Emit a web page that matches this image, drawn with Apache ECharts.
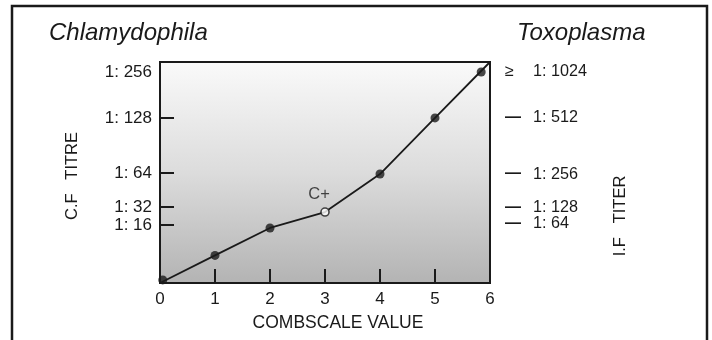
<!DOCTYPE html>
<html>
<head>
<meta charset="utf-8">
<script src="https://cdn.jsdelivr.net/npm/echarts@6/dist/echarts.min.js"></script>
<style>html,body{margin:0;padding:0;background:#fff}#c{width:712px;height:340px}</style>
</head>
<body>
<div id="c"></div>
<script>
// ---- data ----
const combscaleTicks = [0, 1, 2, 3, 4, 5, 6];
const cfTitreLabels = ['1: 256', '1: 128', '1: 64', '1: 32', '1: 16'];
const cfTitreLevels = [95.5, 74.7, 49.8, 34.4, 26.2];
const cfTickLevels = [74.7, 49.8, 34.4, 26.2];
const ifTiterLabels = ['1: 1024', '1: 512', '1: 256', '1: 128', '1: 64'];
const ifTiterLevels = [95.5, 74.7, 49.3, 34.1, 26.7];
const ifTiterSymbols = ['≥', '—', '—', '—', '—'];
const lineX = [0, 1, 2, 3, 4, 5, 6];
const lineLevels = [0, 12.5, 24.9, 32.1, 49.3, 74.7, 100];
const pointX = [0.05, 1, 2, 3, 4, 5, 5.84];
const pointLevels = [1.4, 12.5, 24.9, 32.1, 49.3, 74.7, 95.5];
const openPointIndex = 3;
const openPointLabel = 'C+';
const leftTitle = 'Chlamydophila';
const rightTitle = 'Toxoplasma';
const leftAxisName = 'C.F   TITRE';
const rightAxisName = 'I.F   TITER';
const xAxisName = 'COMBSCALE VALUE';

const FONT = '"Liberation Sans", Arial, Helvetica, sans-serif';
const INK = '#1a1a1a';
function lookup(levels, labels, v) {
  const i = levels.findIndex(l => Math.abs(l - v) < 1e-6);
  return i >= 0 ? labels[i] : '';
}

const chart = echarts.init(document.getElementById('c'), null, {renderer: 'canvas'});
const option = {
  animation: false,
  textStyle: {fontFamily: FONT, color: INK},
  grid: {
    left: 160, top: 62, right: 222, bottom: 57,
    show: true, borderColor: INK, borderWidth: 2,
    backgroundColor: {
      type: 'linear', x: 0, y: 0, x2: 0, y2: 1,
      colorStops: [{offset: 0, color: '#fafafa'}, {offset: 0.5, color: '#dcdcdc'}, {offset: 1, color: '#b3b3b3'}]
    }
  },
  xAxis: {
    type: 'value', min: 0, max: 6, interval: 1,
    name: xAxisName, nameLocation: 'middle', nameGap: 31,
    nameTextStyle: {fontSize: 17.5, color: INK, fontFamily: FONT, padding: [0, 0, 0, 26]},
    axisLine: {show: true, lineStyle: {color: INK, width: 2}},
    axisTick: {show: true, inside: true, length: 14, lineStyle: {color: INK, width: 2}},
    axisLabel: {fontSize: 17, color: INK, margin: 8, fontFamily: FONT, hideOverlap: false,
      formatter: v => combscaleTicks.includes(v) ? String(v) : ''},
    splitLine: {show: false}
  },
  yAxis: [{
    type: 'value', min: 0, max: 100, position: 'left',
    axisLine: {show: true, lineStyle: {color: INK, width: 2}},
    axisTick: {show: true, inside: true, length: 14, customValues: cfTickLevels, lineStyle: {color: INK, width: 2}},
    axisLabel: {fontSize: 17, color: INK, margin: 8, fontFamily: FONT, customValues: cfTitreLevels,
      hideOverlap: false,
      formatter: v => lookup(cfTitreLevels, cfTitreLabels, v)},
    splitLine: {show: false}
  }, {
    type: 'value', min: 0, max: 100, position: 'right',
    axisLine: {show: false},
    axisTick: {show: false},
    axisLabel: {color: INK, fontSize: 16.2, margin: 15, fontFamily: FONT,
      customValues: ifTiterLevels, hideOverlap: false,
      formatter: v => {
        const i = ifTiterLevels.findIndex(l => Math.abs(l - v) < 1e-6);
        if (i < 0) return '';
        return (i === 0 ? '{g|' : '{s|') + ifTiterSymbols[i] + '}{t|' + ifTiterLabels[i] + '}';
      },
      rich: {
        s: {width: 28, fontSize: 16, fontWeight: 'bold', fontFamily: FONT, color: INK, align: 'left'},
        g: {width: 28, fontSize: 16.2, fontFamily: FONT, color: INK, align: 'left'},
        t: {fontSize: 16.2, fontFamily: FONT, color: INK}
      }},
    splitLine: {show: false}
  }],
  series: [{
    type: 'line',
    data: lineX.map((x, i) => [x, lineLevels[i]]),
    showSymbol: false, symbol: 'none',
    lineStyle: {color: INK, width: 1.8},
    z: 2
  }, {
    type: 'scatter',
    data: pointX.map((x, i) => {
      const d = {value: [x, pointLevels[i]]};
      if (i === openPointIndex) {
        d.itemStyle = {color: '#ffffff', borderColor: INK, borderWidth: 1.6};
        d.symbolSize = 8;
        d.label = {show: true, position: 'top', formatter: openPointLabel, fontSize: 16.5,
          color: INK, fontFamily: FONT, offset: [-6, 1]};
      }
      return d;
    }),
    symbol: 'circle', symbolSize: 9,
    itemStyle: {color: INK},
    z: 3
  }],
  graphic: [
    {type: 'rect', shape: {x: 12, y: 6, width: 695, height: 400},
     style: {fill: 'none', stroke: INK, lineWidth: 2.5}, silent: true},
    {type: 'text', x: 49, y: 33,
     style: {text: leftTitle, font: 'italic 24px ' + FONT, fill: INK, verticalAlign: 'middle', align: 'left'}},
    {type: 'text', x: 517, y: 33,
     style: {text: rightTitle, font: 'italic 24px ' + FONT, fill: INK, verticalAlign: 'middle', align: 'left'}},
    {type: 'text', x: 72, y: 176, rotation: Math.PI / 2,
     style: {text: leftAxisName, font: '16.5px ' + FONT, fill: INK, align: 'center', verticalAlign: 'middle'}},
    {type: 'text', x: 620, y: 216, rotation: Math.PI / 2,
     style: {text: rightAxisName, font: '16.5px ' + FONT, fill: INK, align: 'center', verticalAlign: 'middle'}}
  ]
};
chart.setOption(option);
</script>
</body>
</html>
